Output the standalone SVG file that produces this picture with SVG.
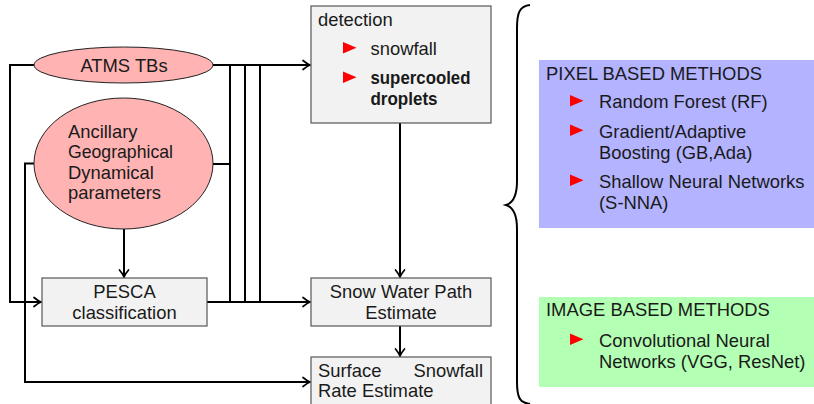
<svg xmlns="http://www.w3.org/2000/svg" width="814" height="404" viewBox="0 0 814 404">
  <style>
    text { font-family: "Liberation Sans", Arial, sans-serif; font-size: 18.4px; fill: #1a1a1a; }
    .bold { font-weight: bold; }
    .mid { text-anchor: middle; }
    .box { fill: #f2f2f2; stroke: #555; stroke-width: 1.2; }
    .oval { fill: #ffb3b3; stroke: #222; stroke-width: 1; }
    .wire { fill: none; stroke: #000; stroke-width: 2; }
    .bullet { fill: #ff0000; }
  </style>
  <defs>
    <marker id="arrow" markerUnits="userSpaceOnUse" markerWidth="14" markerHeight="14" viewBox="-10 -7 12 14" refX="0" refY="0" orient="auto">
      <path d="M-7,-4.5 C-4,-2 -1.5,-0.5 0,0 C-1.5,0.5 -4,2 -7,4.5" fill="none" stroke="#000" stroke-width="1.7" stroke-linecap="round"/>
    </marker>
    <path id="tri" d="M0,0 L13.5,5.7 L0,11.4 Z"/>
  </defs>

  <!-- connectors -->
  <g id="connectors">
    <path class="wire" d="M34,65 H10 V302 H41" marker-end="url(#arrow)"/>
    <path class="wire" d="M34,163.5 H25 V382 H310" marker-end="url(#arrow)"/>
    <path class="wire" d="M213,65 H310" marker-end="url(#arrow)"/>
    <path class="wire" d="M213,164 H230"/>
    <path class="wire" d="M230,65 V302 M245,65 V302 M260,65 V302"/>
    <path class="wire" d="M207,302 H310" marker-end="url(#arrow)"/>
    <path class="wire" d="M124,229 V277" marker-end="url(#arrow)"/>
    <path class="wire" d="M400,123 V277" marker-end="url(#arrow)"/>
    <path class="wire" d="M400,326 V356" marker-end="url(#arrow)"/>
  </g>

  <!-- inputs -->
  <g id="atms">
    <ellipse class="oval" cx="123.5" cy="65" rx="89.5" ry="18"/>
    <text class="mid" x="124" y="71.5">ATMS TBs</text>
  </g>
  <g id="ancillary">
    <ellipse class="oval" cx="123.5" cy="163.5" rx="89.5" ry="65.5"/>
    <text x="68" y="137.5">Ancillary</text>
    <text x="68" y="158" textLength="105" lengthAdjust="spacingAndGlyphs">Geographical</text>
    <text x="68" y="178.5">Dynamical</text>
    <text x="68" y="199">parameters</text>
  </g>

  <!-- processing boxes -->
  <g id="pesca">
    <rect class="box" x="42" y="278" width="165" height="48"/>
    <text class="mid" x="124.5" y="298">PESCA</text>
    <text class="mid" x="124.5" y="318.5">classification</text>
  </g>
  <g id="detection">
    <rect class="box" x="311" y="6" width="180" height="117"/>
    <text x="318" y="25.5">detection</text>
    <use href="#tri" x="343" y="42" class="bullet"/>
    <text x="370.5" y="55">snowfall</text>
    <use href="#tri" x="343" y="71.5" class="bullet"/>
    <text class="bold" x="370.5" y="84" textLength="100" lengthAdjust="spacingAndGlyphs">supercooled</text>
    <text class="bold" x="370.5" y="105" textLength="67" lengthAdjust="spacingAndGlyphs">droplets</text>
  </g>
  <g id="swp">
    <rect class="box" x="311" y="278" width="180" height="48"/>
    <text class="mid" x="401" y="298">Snow Water Path</text>
    <text class="mid" x="401" y="319">Estimate</text>
  </g>
  <g id="ssr">
    <rect class="box" x="311" y="357" width="180" height="52"/>
    <text x="318" y="376.5">Surface</text>
    <text x="483" y="376.5" text-anchor="end">Snowfall</text>
    <text x="318" y="397">Rate Estimate</text>
  </g>

  <!-- brace grouping the method families -->
  <g id="brace">
    <path class="wire" d="M530,5 C520,6 517,12 517,28 V181 C517,196 513,203 506,205 C513,207 517,214 517,229 V382 C517,398 520,403 530,404"/>
  </g>

  <g id="pixel-methods">
    <rect x="539" y="60" width="275" height="168" fill="#b3b3ff"/>
    <text x="546" y="79.5">PIXEL BASED METHODS</text>
    <use href="#tri" x="570" y="95" class="bullet"/>
    <text x="599" y="108">Random Forest (RF)</text>
    <use href="#tri" x="570" y="124.5" class="bullet"/>
    <text x="599" y="137.5">Gradient/Adaptive</text>
    <text x="599" y="159">Boosting (GB,Ada)</text>
    <use href="#tri" x="570" y="174.5" class="bullet"/>
    <text x="599" y="187.5">Shallow Neural Networks</text>
    <text x="599" y="208.5">(S-NNA)</text>
  </g>

  <g id="image-methods">
    <rect x="539" y="297" width="275" height="90" fill="#b3ffb3"/>
    <text x="546" y="316">IMAGE BASED METHODS</text>
    <use href="#tri" x="570" y="333.5" class="bullet"/>
    <text x="599" y="346.5">Convolutional Neural</text>
    <text x="599" y="367.5">Networks (VGG, ResNet)</text>
  </g>
</svg>
